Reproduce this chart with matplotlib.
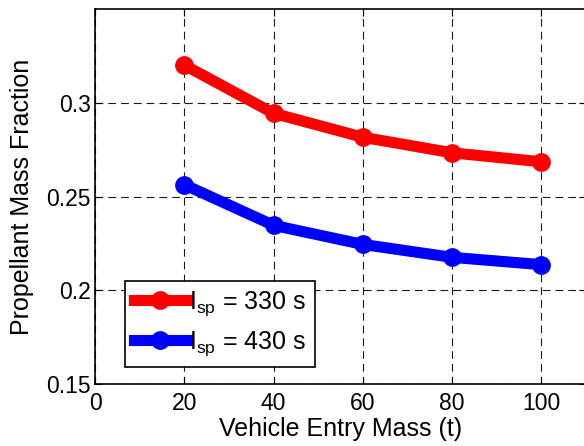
import matplotlib.pyplot as plt

# data
massa = [20, 40, 60, 80, 100]
fraksi_330 = [0.3202, 0.2945, 0.2817, 0.2734, 0.2686]
fraksi_430 = [0.2564, 0.2347, 0.2245, 0.2176, 0.2137]
label_330 = r'$\mathrm{I_{sp}}$ = 330 s'
label_430 = r'$\mathrm{I_{sp}}$ = 430 s'

plt.rcParams['font.family'] = ['Liberation Sans', 'DejaVu Sans']
plt.rcParams['mathtext.fontset'] = 'custom'
plt.rcParams['mathtext.rm'] = 'Liberation Sans'
plt.rcParams['mathtext.it'] = 'Liberation Sans'

fig = plt.figure(figsize=(5.84, 4.46), dpi=100)
# axes runs a bit past the right edge (cropped like the reference)
ax = fig.add_axes([95 / 584, 62 / 446, 491 / 584, 374.7 / 446])

ax.plot(massa, fraksi_330, color='red', lw=8, marker='o', ms=12.5, label=label_330)
ax.plot(massa, fraksi_430, color='blue', lw=8, marker='o', ms=12.5, label=label_430)

ax.set_xlim(0, 110)
ax.set_ylim(0.15, 0.35)
ax.set_xticks([0, 20, 40, 60, 80, 100])
ax.set_yticks([0.15, 0.2, 0.25, 0.3])
ax.set_yticklabels(['0.15', '0.2', '0.25', '0.3'])
ax.tick_params(direction='in', top=True, right=True, labelsize=16.5, length=5)
ax.tick_params(axis='x', pad=6)
ax.tick_params(axis='y', pad=3)
ax.grid(True, color='0.1', linestyle=(0, (7, 4.5)), linewidth=0.8)
for s in ax.spines.values():
    s.set_linewidth(1.2)

ax.set_xlabel('Vehicle Entry Mass (t)', fontsize=18, labelpad=1)
ax.set_ylabel('Propellant Mass Fraction', fontsize=18, labelpad=9)

leg = ax.legend(loc='lower left', bbox_to_anchor=(0.062, 0.045), fontsize=18,
                fancybox=False, edgecolor='black', framealpha=1,
                handlelength=2.1, handletextpad=0.1, borderpad=0.35,
                labelspacing=0.45, borderaxespad=0)
leg.get_frame().set_linewidth(1.2)

plt.savefig('out.png', dpi=100)
